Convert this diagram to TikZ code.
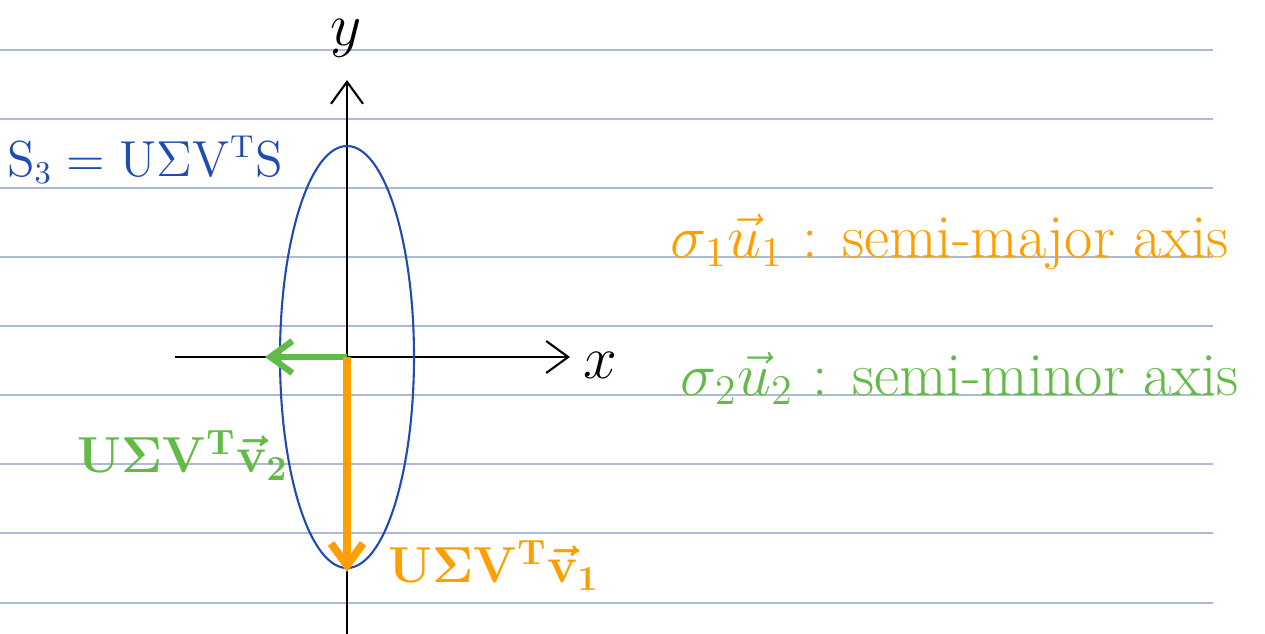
\documentclass[tikz,border=0pt]{standalone}
\usepackage{amsmath,amssymb,bm}
\usetikzlibrary{arrows.meta}
\definecolor{ruleblue}{RGB}{172,186,212}
\definecolor{penblue}{RGB}{30,75,180}
\definecolor{penorange}{RGB}{255,158,0}
\definecolor{pengreen}{RGB}{98,187,70}
\tikzset{
  axis/.style={line width=0.6pt,->},
  axlabel/.style={font=\fontsize{18}{20}\selectfont,inner sep=0pt},
  hand/.style={font=\fontsize{17.5}{20}\selectfont,inner sep=0pt},
  bold/.style={font=\fontsize{14.5}{18}\selectfont\bfseries\boldmath,inner sep=0pt}
}

\begin{document}
\begin{tikzpicture}[x=0.1mm,y=-0.1mm,>={Straight Barb[length=2.2mm,width=3.2mm]}]
\useasboundingbox (0,0) rectangle (1265,634);
% ruled paper
\foreach \yy in {50,119,188,257,326,395,464,533,603}
  \draw[ruleblue,line width=0.45pt] (0,\yy) -- (1213,\yy);
% axes
\coordinate (O) at (347,357);
\coordinate (xl) at (175,357);
\coordinate (xr) at (570,357);
\coordinate (yb) at (347,634);
\coordinate (yt) at (347,80);
\draw[axis] (xl) -- (xr);
\draw[axis] (yb) -- (yt);
\node[axlabel] (xlab) at (600,365) {$x$};
\node[axlabel] (ylab) at (346,38) {$y$};
% ellipse
\draw[penblue,line width=0.6pt] (O) ellipse [x radius=67, y radius=211];
% images of v1, v2
\coordinate (gtip) at (265,357);
\coordinate (otip) at (347,572);
\draw[->,pengreen,line width=1.8pt] (O) -- (gtip);
\draw[->,penorange,line width=2.2pt] (O) -- (otip);
% labels
\node[font=\fontsize{13.5}{16}\selectfont,inner sep=0pt,text=penblue] (slab) at (145,160)
  {$\mathrm{S}_3=\mathrm{U}\Sigma\mathrm{V}^{\mathrm{T}}\mathrm{S}$};
\node[hand,text=penorange] (major) at (950,242) {$\sigma_1\vec{u}_1$ : semi-major axis};
\node[hand,text=pengreen] (minor) at (960,378) {$\sigma_2\vec{u}_2$ : semi-minor axis};
\node[bold,text=pengreen] (gv) at (183,455) {$\mathbf{U}\bm{\Sigma}\mathbf{V}^{\mathbf{T}}\vec{\mathbf{v}}_2$};
\node[bold,text=penorange] (ov) at (494,565) {$\mathbf{U}\bm{\Sigma}\mathbf{V}^{\mathbf{T}}\vec{\mathbf{v}}_1$};
\end{tikzpicture}
\end{document}
